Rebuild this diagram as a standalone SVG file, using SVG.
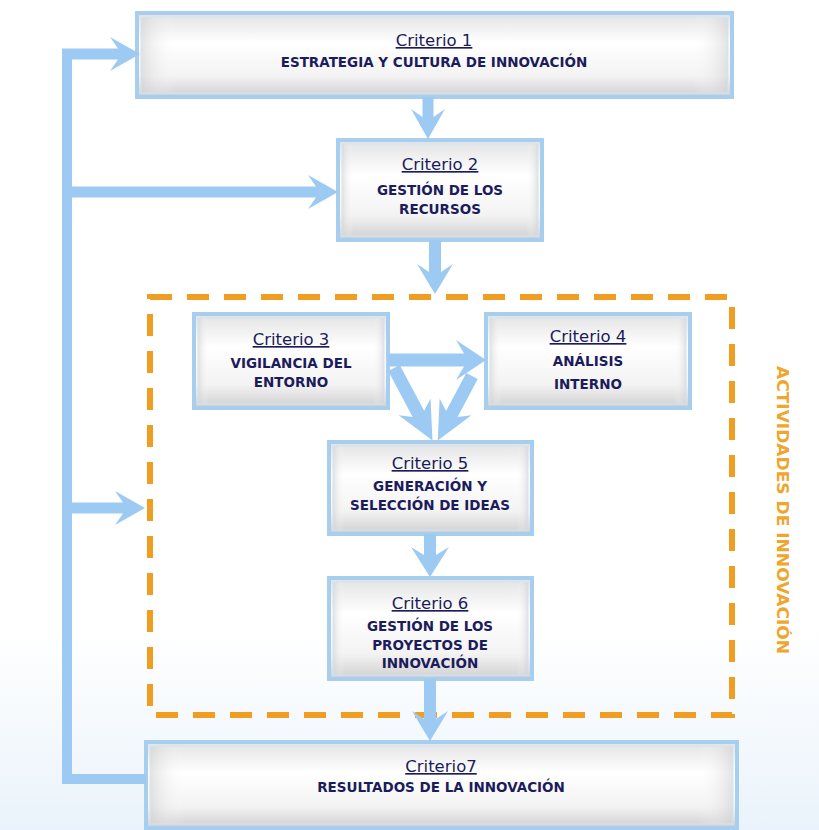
<svg xmlns="http://www.w3.org/2000/svg" width="819" height="830" viewBox="0 0 819 830">
<defs>
<linearGradient id="fillG" x1="0" y1="0" x2="0" y2="1">
<stop offset="0" stop-color="#e2e2e2"/>
<stop offset="0.35" stop-color="#ffffff"/>
<stop offset="0.75" stop-color="#f3f3f3"/>
<stop offset="1" stop-color="#cfcfcf"/>
</linearGradient>
<linearGradient id="sideG" x1="0" y1="0" x2="1" y2="0">
<stop offset="0" stop-color="#cfcfcf" stop-opacity="0.6"/>
<stop offset="0.06" stop-color="#ffffff" stop-opacity="0"/>
<stop offset="0.94" stop-color="#ffffff" stop-opacity="0"/>
<stop offset="1" stop-color="#cfcfcf" stop-opacity="0.6"/>
</linearGradient>
<linearGradient id="bgG" x1="0" y1="0" x2="0" y2="1">
<stop offset="0" stop-color="#ffffff"/>
<stop offset="1" stop-color="#eaf3fb"/>
</linearGradient>
</defs>
<style>
.box{fill:url(#fillG);stroke:#a7cdef;stroke-width:4}
.side{fill:url(#sideG);stroke:#d2e5f6;stroke-width:1}
.ttl{font-family:"DejaVu Sans",Verdana,sans-serif;font-size:16.5px;fill:#1c1c5c;text-anchor:middle;text-decoration:underline}
.bd{font-family:"DejaVu Sans",Verdana,sans-serif;font-size:13.5px;font-weight:bold;fill:#1c1c5c;text-anchor:middle}
.arr{fill:#9ccaf3}
</style>
<rect x="0" y="630" width="819" height="200" fill="url(#bgG)"/>

<g id="activities">
<rect x="150" y="297" width="582" height="418" fill="none" stroke="#ef9e22" stroke-width="6" stroke-dasharray="22 15"/>
<text x="777" y="510" transform="rotate(90 777 510)" font-family="'DejaVu Sans',Verdana,sans-serif" font-size="16" font-weight="bold" fill="#f0a52c" text-anchor="middle" textLength="288" lengthAdjust="spacingAndGlyphs">ACTIVIDADES DE INNOVACIÓN</text>
</g>

<g id="criterio1">
<rect class="box" x="137" y="13" width="595" height="84"/>
<rect class="side" x="141" y="17" width="587" height="76"/>
<text class="ttl" x="434" y="46">Criterio 1</text>
<text class="bd" x="434" y="67">ESTRATEGIA Y CULTURA DE INNOVACIÓN</text>
</g>

<g id="criterio2">
<rect class="box" x="338" y="140" width="204" height="100"/>
<rect class="side" x="342" y="144" width="196" height="92"/>
<text class="ttl" x="440" y="170">Criterio 2</text>
<text class="bd" x="440" y="195">GESTIÓN DE LOS</text>
<text class="bd" x="440" y="214">RECURSOS</text>
</g>

<g id="criterio3">
<rect class="box" x="194" y="314" width="194" height="94"/>
<rect class="side" x="198" y="318" width="186" height="86"/>
<text class="ttl" x="291" y="345">Criterio 3</text>
<text class="bd" x="291" y="368">VIGILANCIA DEL</text>
<text class="bd" x="291" y="387">ENTORNO</text>
</g>

<g id="criterio4">
<rect class="box" x="486" y="314" width="204" height="94"/>
<rect class="side" x="490" y="318" width="196" height="86"/>
<text class="ttl" x="588" y="342">Criterio 4</text>
<text class="bd" x="588" y="366">ANÁLISIS</text>
<text class="bd" x="588" y="389">INTERNO</text>
</g>

<g id="criterio5">
<rect class="box" x="329" y="442" width="203" height="92"/>
<rect class="side" x="333" y="446" width="195" height="84"/>
<text class="ttl" x="430" y="469">Criterio 5</text>
<text class="bd" x="430" y="491">GENERACIÓN Y</text>
<text class="bd" x="430" y="510">SELECCIÓN DE IDEAS</text>
</g>

<g id="criterio6">
<rect class="box" x="329" y="578" width="203" height="101"/>
<rect class="side" x="333" y="582" width="195" height="93"/>
<text class="ttl" x="430" y="609">Criterio 6</text>
<text class="bd" x="430" y="631">GESTIÓN DE LOS</text>
<text class="bd" x="430" y="650">PROYECTOS DE</text>
<text class="bd" x="430" y="668">INNOVACIÓN</text>
</g>

<g id="criterio7">
<rect class="box" x="146" y="742" width="591" height="86"/>
<rect class="side" x="150" y="746" width="583" height="78"/>
<text class="ttl" x="441" y="772">Criterio7</text>
<text class="bd" x="441" y="792">RESULTADOS DE LA INNOVACIÓN</text>
</g>

<g id="connectors" class="arr">
<rect x="62" y="49" width="10" height="735"/>
<rect x="62" y="774" width="84" height="10"/>
<path transform="translate(62,54)" d="M0,-5.5 H56 L48,-17 L78,0 L48,17 L56,5.5 H0 Z"/>
<path transform="translate(62,192)" d="M0,-5.5 H254 L246,-17 L276,0 L246,17 L254,5.5 H0 Z"/>
<path transform="translate(62,508)" d="M0,-5.5 H61 L53,-17 L83,0 L53,17 L61,5.5 H0 Z"/>
<path transform="translate(428,97) rotate(90)" d="M0,-5.5 H20 L12,-17 L42,0 L12,17 L20,5.5 H0 Z"/>
<path transform="translate(435,240) rotate(90)" d="M0,-6 H32 L24,-18 L54,0 L24,18 L32,6 H0 Z"/>
<path transform="translate(388,360)" d="M0,-6.5 H76 L68,-20 L98,0 L68,20 L76,6.5 H0 Z"/>
<path transform="translate(394,368) rotate(62)" d="M0,-6.5 H52 L44,-18 L82,0 L44,18 L52,6.5 H0 Z" />
<path transform="translate(472,376) rotate(118)" d="M0,-6.5 H43 L35,-18 L73,0 L35,18 L43,6.5 H0 Z"/>
<path transform="translate(430,534) rotate(90)" d="M0,-6 H21 L13,-19 L43,0 L13,19 L21,6 H0 Z"/>
<path transform="translate(430,679) rotate(90)" d="M0,-6 H40 L32,-18 L62,0 L32,18 L40,6 H0 Z"/>
</g>
</svg>
